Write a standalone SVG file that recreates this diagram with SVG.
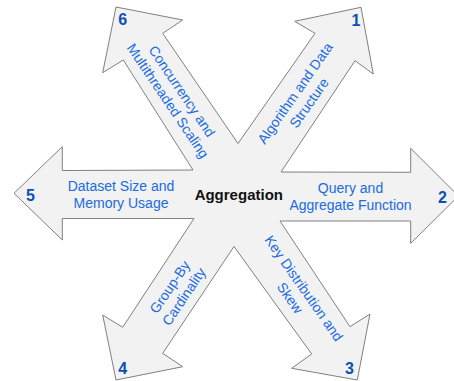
<svg xmlns="http://www.w3.org/2000/svg" width="454" height="381" viewBox="0 0 454 381">
  <style>
    .star { fill: #f2f2f2; stroke: #808080; stroke-width: 1; stroke-linejoin: miter; }
    .lbl { font-family: "Liberation Sans", Arial, sans-serif; font-size: 14px; fill: #1a6be0; text-anchor: middle; }
    .num { font-family: "Liberation Sans", Arial, sans-serif; font-size: 16px; font-weight: bold; fill: #0b4fb5; text-anchor: middle; }
    .hub { font-family: "Liberation Sans", Arial, sans-serif; font-size: 15px; font-weight: bold; fill: #111111; text-anchor: middle; }
  </style>
  <rect width="454" height="381" fill="#ffffff"/>
  <g id="hub">
    <polygon class="star" points="361,7.3 373.3,74 355,60.7 281,172 410.7,172.3 410.7,148.3 458.5,196 410.7,243.3 410.7,221 280,221 350,326.7 370,314 357.3,380 291.7,368.3 311.7,354 234,246.5 162.7,353.3 182.7,366.7 116,380 102.7,315 122.7,327.3 194,218.5 62.3,218.5 62.3,240 14,193.3 62.3,146.7 62.3,170.5 193,170 123.3,60 102.7,72.7 116,7 182.7,20 162.7,33.3 238,143.5 315,33.3 294.7,21.3"/>
    <text class="hub" x="238.8" y="200">Aggregation</text>
  </g>
  <g id="connectors"></g>
  <g id="arrow1">
    <g transform="translate(302,98) rotate(-55)">
      <text class="lbl" x="0" y="-3.5">Algorithm and Data</text>
      <text class="lbl" x="0" y="13.5">Structure</text>
    </g>
    <text class="num" x="356" y="26">1</text>
  </g>
  <g id="arrow2">
    <text class="lbl" x="350.5" y="193.3">Query and</text>
    <text class="lbl" x="350.5" y="210">Aggregate Function</text>
    <text class="num" x="442.5" y="202.5">2</text>
  </g>
  <g id="arrow3">
    <g transform="translate(297,293) rotate(55)">
      <text class="lbl" x="0" y="-3.5">Key Distribution and</text>
      <text class="lbl" x="0" y="13.5">Skew</text>
    </g>
    <text class="num" x="349.5" y="374">3</text>
  </g>
  <g id="arrow4">
    <g transform="translate(176.7,291.7) rotate(-56)">
      <text class="lbl" x="0" y="-3.5">Group-By</text>
      <text class="lbl" x="0" y="13.5">Cardinality</text>
    </g>
    <text class="num" x="122.8" y="374">4</text>
  </g>
  <g id="arrow5">
    <text class="lbl" x="121" y="190.7">Dataset Size and</text>
    <text class="lbl" x="121" y="207.7">Memory Usage</text>
    <text class="num" x="30.5" y="200.7">5</text>
  </g>
  <g id="arrow6">
    <g transform="translate(175,96) rotate(56)">
      <text class="lbl" x="0" y="-3.5">Concurrency and</text>
      <text class="lbl" x="0" y="13.5">Multithreaded Scaling</text>
    </g>
    <text class="num" x="122.8" y="25">6</text>
  </g>
</svg>
